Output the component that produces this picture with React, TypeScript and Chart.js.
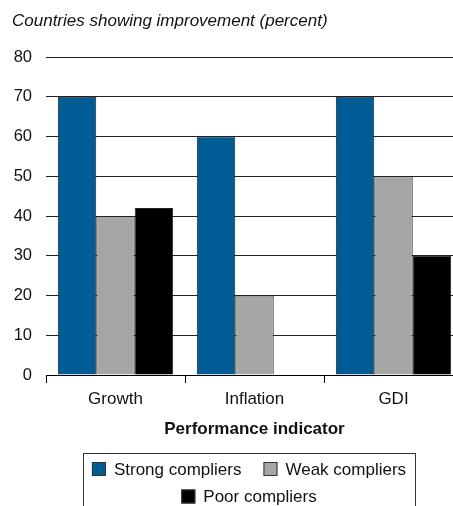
import React, { useEffect, useRef } from "react";
import { Chart, registerables } from "chart.js";

Chart.register(...registerables);

const categories = ["Growth", "Inflation", "GDI"];
const seriesNames = ["Strong compliers", "Weak compliers", "Poor compliers"];
const strongValues = [70, 60, 70];
const weakValues = [40, 20, 50];
const poorValues = [42, 0, 30];
const yTicks = [0, 10, 20, 30, 40, 50, 60, 70, 80];
const titleText = "Countries showing improvement (percent)";
const xAxisTitle = "Performance indicator";

const colors = ["rgb(0,92,148)", "rgb(166,166,166)", "rgb(0,0,0)"];
const FONT = '"Liberation Sans", Arial, Helvetica, sans-serif';

const titlePlugin = {
  id: "topTitle",
  afterDraw(chart: any) {
    const ctx = chart.ctx;
    ctx.save();
    ctx.font = `italic 17px ${FONT}`;
    ctx.fillStyle = "#111";
    ctx.textAlign = "left";
    ctx.textBaseline = "middle";
    ctx.fillText(titleText, 12, 21);
    ctx.restore();
  },
};

const legendPlugin = {
  id: "boxLegend",
  afterDraw(chart: any) {
    const ctx = chart.ctx;
    ctx.save();
    ctx.strokeStyle = "#333";
    ctx.lineWidth = 1;
    ctx.strokeRect(83.5, 453.5, 332, 80);
    ctx.font = `17px ${FONT}`;
    ctx.textBaseline = "middle";
    ctx.textAlign = "left";
    const rows = [[0, 1], [2]];
    const rowY = [469, 496.5];
    const centerX = 249;
    const box = 14;
    const gapText = 8;
    const gapItem = 22;
    rows.forEach((row, ri) => {
      const widths = row.map(
        (i) => box + gapText + ctx.measureText(chart.data.datasets[i].label).width
      );
      const total = widths.reduce((a, b) => a + b, 0) + gapItem * (row.length - 1);
      let x = centerX - total / 2;
      row.forEach((i, k) => {
        const ds = chart.data.datasets[i];
        const y = rowY[ri];
        ctx.fillStyle = ds.backgroundColor;
        ctx.fillRect(x, y - box / 2, box, box);
        ctx.strokeStyle = "#333";
        ctx.strokeRect(x + 0.5, y - box / 2 + 0.5, box - 1, box - 1);
        ctx.fillStyle = "#111";
        ctx.fillText(ds.label, x + box + gapText, y + 1);
        x += widths[k] + gapItem;
      });
    });
    ctx.restore();
  },
};

export default function App() {
  const canvasRef = useRef<HTMLCanvasElement | null>(null);

  useEffect(() => {
    if (!canvasRef.current) return;
    const chart = new Chart(canvasRef.current, {
      type: "bar",
      data: {
        labels: categories,
        datasets: [strongValues, weakValues, poorValues].map((vals, i) => ({
          label: seriesNames[i],
          data: vals,
          backgroundColor: colors[i],
          borderColor: "#222",
          borderWidth: 1,
          categoryPercentage: 0.83,
          barPercentage: 1.0,
        })),
      },
      options: {
        responsive: false,
        animation: false,
        devicePixelRatio: 1,
        layout: { padding: { top: 57, left: 0, right: 0, bottom: 58 } },
        plugins: {
          legend: { display: false },
          title: { display: false },
          tooltip: { enabled: false },
        },
        scales: {
          x: {
            offset: true,
            grid: {
              display: true,
              offset: true,
              drawOnChartArea: false,
              drawTicks: true,
              tickLength: 8,
              color: "#000",
            },
            border: { display: true, color: "#000", width: 1 },
            ticks: { color: "#111", font: { family: FONT, size: 17 }, padding: 6 },
            title: {
              display: true,
              text: xAxisTitle,
              color: "#111",
              font: { family: FONT, size: 17, weight: "bold" },
              padding: { top: 0, bottom: 8 },
            },
            afterFit(scale: any) {
              scale.height = 73;
            },
          },
          y: {
            min: 0,
            max: 80,
            afterBuildTicks(scale: any) {
              scale.ticks = yTicks.map((v) => ({ value: v }));
            },
            grid: { color: "#222", lineWidth: 1, drawTicks: false },
            border: { display: false },
            ticks: { color: "#111", font: { family: FONT, size: 16.5 }, padding: 14 },
            afterFit(scale: any) {
              scale.width = 46;
            },
          },
        },
      },
      plugins: [titlePlugin, legendPlugin],
    });
    return () => chart.destroy();
  }, []);

  return (
    <div
      style={{
        position: "fixed",
        left: 0,
        top: 0,
        width: 453,
        height: 506,
        overflow: "hidden",
        background: "#fff",
      }}
    >
      <canvas ref={canvasRef} width={463} height={506} style={{ display: "block" }} />
    </div>
  );
}
